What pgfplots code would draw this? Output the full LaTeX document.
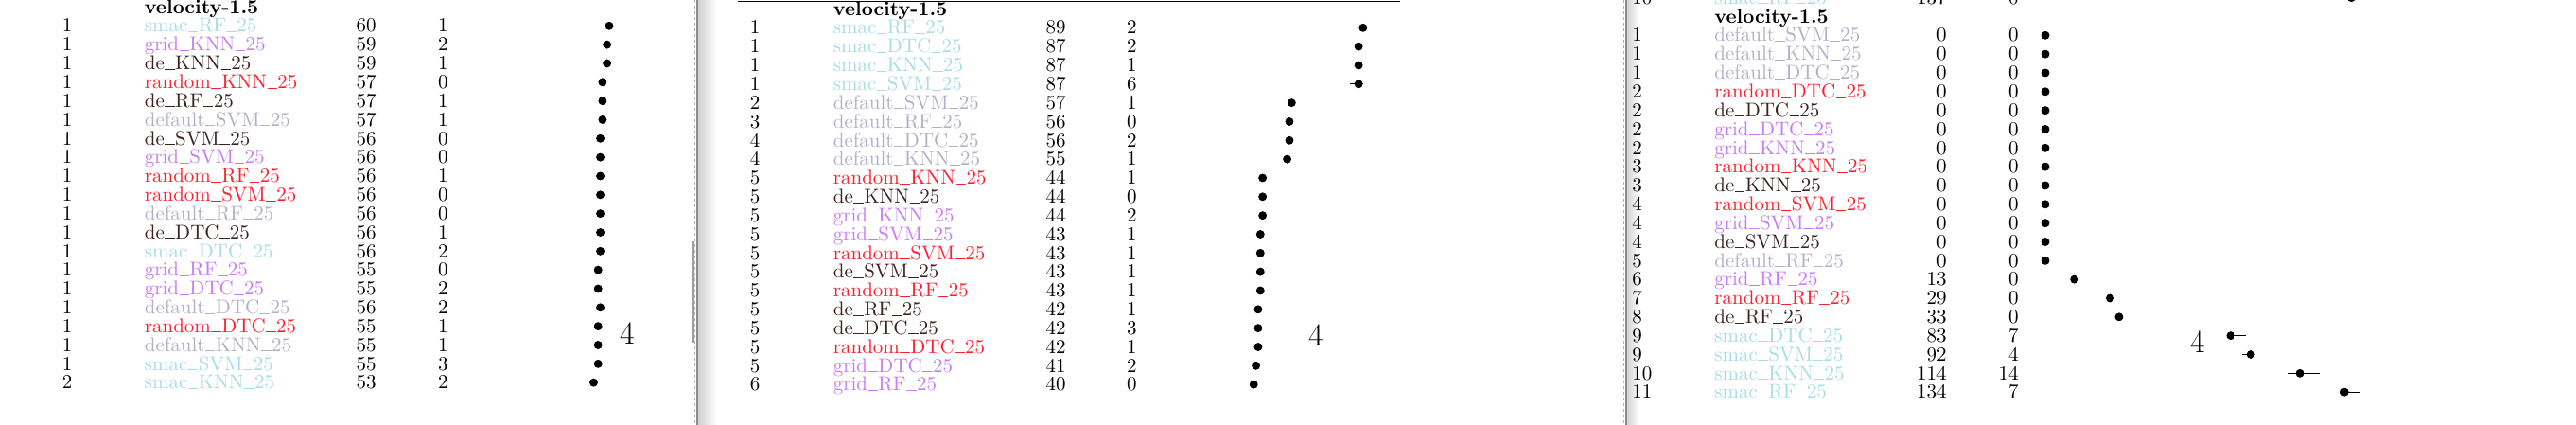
\documentclass[border=0pt]{standalone}
\usepackage{pgfplots}
\pgfplotsset{compat=1.18}
\usepackage{pgfplotstable}
\definecolor{csmac}{HTML}{A8DCE6}
\definecolor{cgrid}{HTML}{C77DF3}
\definecolor{cde}{HTML}{3E2222}
\definecolor{crandom}{HTML}{FF1F2F}
\definecolor{cdefault}{HTML}{B3AFC8}
\newcommand\us{\kern0.02em\rule{0.5em}{0.45pt}\kern0.02em}

% name of each row = <grp>_<model>_25
\pgfplotstableread{
rank grp model score std em ep
1 smac RF 60 1 0.5 0.5
1 grid KNN 59 2 1 1
1 de KNN 59 1 0.5 0.5
1 random KNN 57 0 0 0
1 de RF 57 1 0.5 0.5
1 default SVM 57 1 0.5 0.5
1 de SVM 56 0 0 0
1 grid SVM 56 0 0 0
1 random RF 56 1 0.5 0.5
1 random SVM 56 0 0 0
1 default RF 56 0 0 0
1 de DTC 56 1 0.5 0.5
1 smac DTC 56 2 1 1
1 grid RF 55 0 0 0
1 grid DTC 55 2 1 1
1 default DTC 56 2 1 1
1 random DTC 55 1 0.5 0.5
1 default KNN 55 1 0.5 0.5
1 smac SVM 55 3 1.5 1.5
2 smac KNN 53 2 1 1
}\tabA

\pgfplotstableread{
rank grp model score std em ep
1 smac RF 89 2 1 1
1 smac DTC 87 2 1 1
1 smac KNN 87 1 0.5 0.5
1 smac SVM 87 6 4 2
2 default SVM 57 1 0.5 0.5
3 default RF 56 0 0 0
4 default DTC 56 2 1 1
4 default KNN 55 1 0.5 0.5
5 random KNN 44 1 0.5 0.5
5 de KNN 44 0 0 0
5 grid KNN 44 2 1 1
5 grid SVM 43 1 0.5 0.5
5 random SVM 43 1 0.5 0.5
5 de SVM 43 1 0.5 0.5
5 random RF 43 1 0.5 0.5
5 de RF 42 1 0.5 0.5
5 de DTC 42 3 1.5 1.5
5 random DTC 42 1 0.5 0.5
5 grid DTC 41 2 1 1
6 grid RF 40 0 0 0
}\tabB

\pgfplotstableread{
rank grp model score std em ep
1 default SVM 0 0 0 0
1 default KNN 0 0 0 0
1 default DTC 0 0 0 0
2 random DTC 0 0 0 0
2 de DTC 0 0 0 0
2 grid DTC 0 0 0 0
2 grid KNN 0 0 0 0
3 random KNN 0 0 0 0
3 de KNN 0 0 0 0
4 random SVM 0 0 0 0
4 grid SVM 0 0 0 0
4 de SVM 0 0 0 0
5 default RF 0 0 0 0
6 grid RF 13 0 0 0
7 random RF 29 0 0 0
8 de RF 33 0 0 0
9 smac DTC 83 7 0 7
9 smac SVM 92 4 4 0
10 smac KNN 114 14 5 9
11 smac RF 134 7 0 7
}\tabC

\newcommand\tabletext[6]{%
  \foreach \i in {0,...,19}{%
    \pgfplotstablegetelem{\i}{rank}\of#1\let\vr\pgfplotsretval
    \pgfplotstablegetelem{\i}{grp}\of#1\let\vg\pgfplotsretval
    \pgfplotstablegetelem{\i}{model}\of#1\let\vm\pgfplotsretval
    \pgfplotstablegetelem{\i}{score}\of#1\let\vs\pgfplotsretval
    \pgfplotstablegetelem{\i}{std}\of#1\let\vd\pgfplotsretval
    \pgfmathsetmacro\yy{#2+\i*19.835+6.7}
    \node[anchor=base west] at (#3,\yy) {\vr};
    \node[anchor=base west] at (#4,\yy) {\color{c\vg}\vg\us\vm\us25};
    \node[anchor=base east] at (#5,\yy) {\vs};
    \node[anchor=base east] at (#6,\yy) {\vd};
  }%
  \node[anchor=base west,font=\fontsize{10.5}{12}\selectfont\bfseries] at (#4,#2-19.835+6.7) {velocity-1.5};
}

\pgfplotsset{dotpanel/.style={scale only axis, hide axis, clip=false,
  xmin=0, xmax=150, ymin=1, ymax=20, y dir=reverse,
  width=177pt, height=188.4325pt, anchor=north west}}
\pgfplotsset{dotplot/.style={only marks, mark=*, mark size=2pt, black,
  error bars/.cd, x dir=both, x explicit, error mark=none,
  error bar style={line width=0.5pt, black}}}

\begin{document}
\begin{tikzpicture}
\useasboundingbox (0,0) rectangle (1361.5pt,-224.5pt);
\fill[white] (0,0) rectangle (1361.5pt,-224.5pt);
\clip (0,0) rectangle (1361.5pt,-224.5pt);

% panel 1 dots
\begin{axis}[dotpanel, at={(251.2pt,-13.65pt)}]
\addplot[dotplot] table[x=score, y expr=\coordindex+1, x error plus=ep, x error minus=em]{\tabA};
\end{axis}
% panel 2 dots
\begin{axis}[dotpanel, at={(615.4pt,-14.65pt)}]
\addplot[dotplot] table[x=score, y expr=\coordindex+1, x error plus=ep, x error minus=em]{\tabB};
\end{axis}
% panel 3 dots
\begin{axis}[dotpanel, at={(1081pt,-18.65pt)}]
\addplot[dotplot] table[x=score, y expr=\coordindex+1, x error plus=ep, x error minus=em]{\tabC};
\addplot[dotplot] coordinates {(137,-1) +- (0,0)};
\end{axis}

\begin{scope}[x=0.5pt,y=-0.5pt,every node/.style={inner sep=0pt,font=\fontsize{10.5}{12}\selectfont}]
  % page separators
  \shade[left color=black!18,right color=white] (738,0) rectangle (758,449);
  \fill[black!45] (735.5,0) rectangle (738,449);
  \draw[black!30,line width=0.5pt,dash pattern=on 1.5pt off 1.5pt] (734,0) -- (734,449);
  \fill[black!38] (731.5,255) rectangle (733.5,362);
  \shade[left color=black!18,right color=white] (1719.5,0) rectangle (1733,449);
  \fill[black!45] (1717.8,0) rectangle (1719.5,449);
  \draw[black!30,line width=0.5pt,dash pattern=on 1.5pt off 1.5pt] (1716.5,0) -- (1716.5,449);

  % rules
  \draw[line width=0.6pt] (780,1.3) -- (1480,1.3);
  \draw[line width=0.6pt] (1719.5,9.3) -- (2413,9.3);

  % tables
  \tabletext{\tabA}{27.3}{65.5}{152.5}{398}{474}
  \tabletext{\tabB}{29.3}{792.5}{880.5}{1127}{1202}
  \tabletext{\tabC}{37.3}{1725}{1812}{2058}{2134}
  % cut-off row above panel 3
  \node[anchor=base west] at (1725,4.3) {10};
  \node[anchor=base west] at (1812,4.3) {\color{csmac}smac\us RF\us 25};
  \node[anchor=base east] at (2058,4.3) {137};
  \node[anchor=base east] at (2134,4.3) {0};

  % big 4s
  \node[font=\fontsize{17}{20}\selectfont] at (663,352) {4};
  \node[font=\fontsize{17}{20}\selectfont] at (1391,354) {4};
  \node[font=\fontsize{17}{20}\selectfont] at (2323,361) {4};
\end{scope}
\end{tikzpicture}
\end{document}
